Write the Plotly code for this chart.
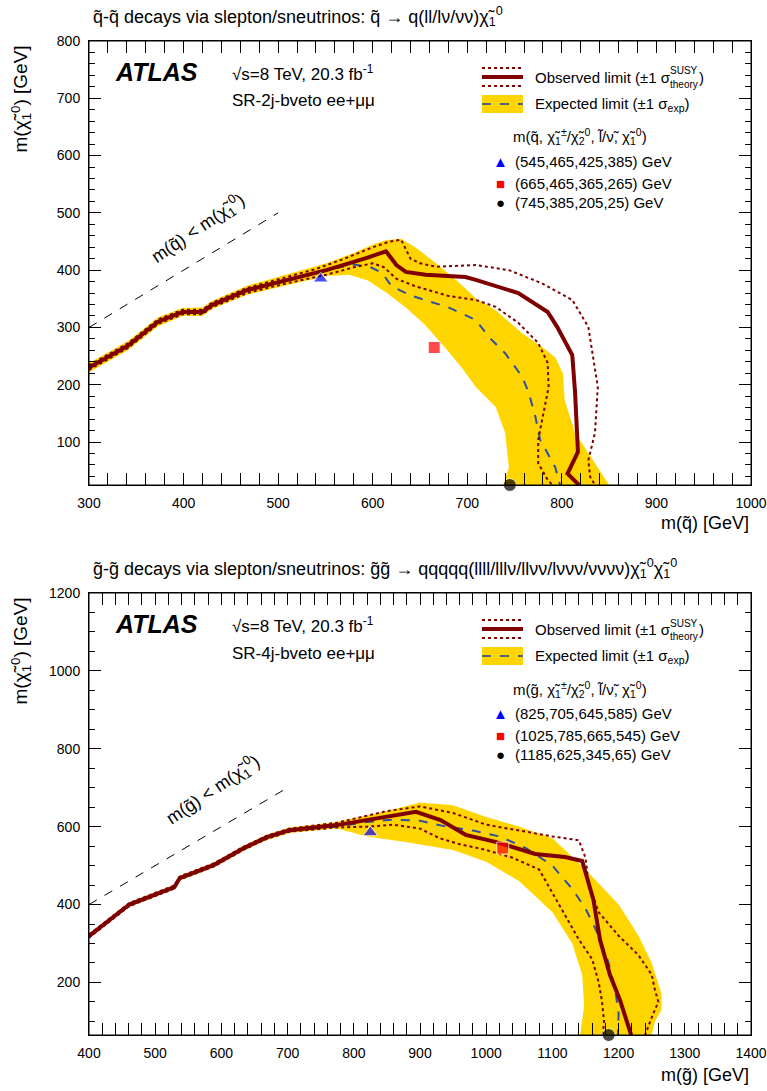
import plotly.graph_objects as go

# ---------------- data: squark plot (top) ----------------
sq_obs_x = [300, 341, 373, 399, 420, 430, 467, 509, 551, 593, 614, 625, 635, 656, 698, 709, 754, 785, 795, 811, 814, 817, 806, 818]
sq_obs_y = [230, 268, 310, 327, 327, 339, 365, 383, 400, 421, 433, 409, 397, 392, 388, 383, 360, 327, 301, 252, 186, 83, 45, 25]
sq_obs_up_x = [300, 341, 373, 399, 420, 430, 467, 509, 540, 570, 600, 618, 630, 640, 650, 667, 690, 709, 744, 779, 811, 828, 838, 835, 828, 830, 835]
sq_obs_up_y = [234, 272, 314, 331, 331, 343, 369, 388, 402, 420, 440, 450, 453, 420, 412, 406, 408, 409, 400, 377, 348, 301, 196, 116, 68, 39, 25]
sq_obs_dn_x = [300, 341, 373, 399, 420, 430, 467, 509, 551, 580, 600, 612, 625, 645, 680, 709, 730, 754, 775, 785, 786, 780, 775, 775, 785, 790]
sq_obs_dn_y = [226, 264, 306, 323, 323, 335, 360, 377, 392, 405, 412, 405, 385, 372, 355, 348, 336, 308, 273, 238, 196, 144, 104, 63, 34, 25]
sq_exp_x = [300, 341, 373, 399, 420, 430, 467, 509, 551, 580, 598, 610, 620, 640, 680, 709, 723, 740, 758, 765, 772, 777, 793, 798]
sq_exp_y = [230, 268, 310, 327, 327, 339, 365, 383, 400, 410, 405, 395, 372, 356, 335, 313, 283, 255, 214, 186, 144, 104, 56, 25]
sq_band_up_x = [300, 341, 373, 399, 420, 430, 467, 509, 551, 580, 600, 614, 630, 645, 667, 690, 709, 730, 758, 779, 793, 801, 803, 814, 828, 842, 850]
sq_band_up_y = [238, 276, 318, 334, 335, 346, 373, 392, 412, 430, 445, 452, 455, 440, 412, 380, 351, 330, 290, 266, 248, 220, 173, 116, 81, 46, 25]
sq_band_dn_x = [300, 341, 373, 399, 420, 430, 467, 509, 551, 575, 595, 615, 635, 655, 678, 694, 709, 730, 740, 744, 738]
sq_band_dn_y = [222, 260, 302, 320, 320, 332, 357, 374, 390, 392, 382, 360, 335, 305, 262, 230, 196, 161, 116, 56, 25]
sq_bench_x = [545, 665, 745]
sq_bench_y = [385, 265, 25]
sq_bench_labels = ["(545,465,425,385) GeV", "(665,465,365,265) GeV", "(745,385,205,25) GeV"]
sq_diag_x = [300, 500]
sq_diag_y = [300, 500]

# ---------------- data: gluino plot (bottom) ----------------
gl_obs_x = [400, 436, 454, 461, 529, 537, 589, 634, 669, 703, 774, 850, 894, 931, 969, 1014, 1074, 1119, 1145, 1162, 1172, 1187, 1202, 1219]
gl_obs_y = [319, 368, 391, 400, 445, 468, 502, 545, 573, 591, 604, 625, 638, 617, 579, 561, 530, 522, 512, 412, 309, 219, 155, 65]
gl_obs_up_x = [400, 436, 454, 461, 529, 537, 589, 634, 669, 703, 774, 850, 900, 950, 1000, 1050, 1100, 1140, 1150, 1155, 1170, 1200, 1230, 1250, 1255, 1260, 1250, 1240]
gl_obs_up_y = [323, 372, 395, 404, 449, 472, 506, 549, 577, 595, 610, 640, 652, 635, 605, 590, 575, 565, 520, 450, 380, 320, 270, 220, 180, 150, 110, 65]
gl_obs_dn_x = [400, 436, 454, 461, 529, 537, 589, 634, 669, 703, 774, 820, 860, 900, 930, 960, 1000, 1040, 1080, 1100, 1120, 1140, 1160, 1170, 1175, 1178, 1176]
gl_obs_dn_y = [315, 364, 387, 396, 441, 464, 498, 541, 569, 587, 598, 600, 605, 595, 570, 555, 540, 520, 490, 430, 370, 310, 260, 200, 150, 100, 65]
gl_exp_x = [400, 436, 454, 461, 529, 537, 589, 634, 669, 703, 774, 820, 860, 900, 940, 980, 1020, 1060, 1100, 1130, 1150, 1170, 1185, 1195, 1200, 1199]
gl_exp_y = [319, 368, 391, 400, 445, 468, 502, 545, 573, 591, 600, 612, 618, 615, 600, 590, 575, 545, 500, 440, 390, 320, 250, 180, 120, 65]
gl_band_up_x = [400, 436, 454, 461, 529, 537, 589, 634, 669, 703, 774, 850, 900, 950, 1000, 1050, 1100, 1150, 1200, 1230, 1250, 1265, 1265, 1255, 1250]
gl_band_up_y = [325, 374, 397, 406, 451, 474, 508, 551, 580, 598, 612, 640, 662, 655, 625, 600, 570, 490, 400, 320, 250, 170, 130, 100, 65]
gl_band_dn_x = [400, 436, 454, 461, 529, 537, 589, 634, 669, 703, 774, 820, 880, 950, 1000, 1050, 1100, 1130, 1145, 1148, 1142]
gl_band_dn_y = [313, 362, 385, 394, 439, 462, 496, 539, 566, 584, 596, 575, 560, 540, 510, 460, 380, 300, 220, 140, 65]
gl_bench_x = [825, 1025, 1185]
gl_bench_y = [585, 545, 65]
gl_bench_labels = ["(825,705,645,585) GeV", "(1025,785,665,545) GeV", "(1185,625,345,65) GeV"]
gl_diag_x = [400, 700]
gl_diag_y = [400, 700]

# ---------------- style ----------------
FONT = "Liberation Sans, Arial, Helvetica, sans-serif"
YEL = "#FFD500"
RED = "#7F0000"
BLUE = "#2F4FA0"
W, H = 767, 1091
L, R, T, B = 89, 16, 41, 56
PW = W - L - R
PH = H - T - B


def px(x):
    return (x - L) / PW


def py(y):
    return (H - B - y) / PH


fig = go.Figure()


def add_panel(xa, ya, band_up_x, band_up_y, band_dn_x, band_dn_y, exp_x, exp_y,
              obs_x, obs_y, up_x, up_y, dn_x, dn_y, bx, by, dx, dy):
    fig.add_trace(go.Scatter(x=band_up_x + band_dn_x[::-1], y=band_up_y + band_dn_y[::-1],
                             fill="toself", fillcolor=YEL, line=dict(width=0), mode="lines",
                             xaxis=xa, yaxis=ya, hoverinfo="skip", showlegend=False))
    fig.add_trace(go.Scatter(x=dx, y=dy, mode="lines", line=dict(color="black", width=1, dash="dash"),
                             xaxis=xa, yaxis=ya, showlegend=False))
    fig.add_trace(go.Scatter(x=exp_x, y=exp_y, mode="lines", line=dict(color=BLUE, width=2, dash="dash"),
                             xaxis=xa, yaxis=ya, showlegend=False))
    fig.add_trace(go.Scatter(x=up_x, y=up_y, mode="lines", line=dict(color=RED, width=2, dash="dot"),
                             xaxis=xa, yaxis=ya, showlegend=False))
    fig.add_trace(go.Scatter(x=dn_x, y=dn_y, mode="lines", line=dict(color=RED, width=2, dash="dot"),
                             xaxis=xa, yaxis=ya, showlegend=False))
    fig.add_trace(go.Scatter(x=obs_x, y=obs_y, mode="lines", line=dict(color=RED, width=4),
                             xaxis=xa, yaxis=ya, showlegend=False))
    fig.add_trace(go.Scatter(x=bx, y=by, mode="markers", cliponaxis=False,
                             marker=dict(symbol=["triangle-up", "square", "circle"],
                                         color=["#0000FF", "#FF0000", "black"], size=[13, 12, 13]),
                             xaxis=xa, yaxis=ya, showlegend=False))


add_panel("x", "y", sq_band_up_x, sq_band_up_y, sq_band_dn_x, sq_band_dn_y, sq_exp_x, sq_exp_y,
          sq_obs_x, sq_obs_y, sq_obs_up_x, sq_obs_up_y, sq_obs_dn_x, sq_obs_dn_y,
          sq_bench_x, sq_bench_y, sq_diag_x, sq_diag_y)
add_panel("x2", "y2", gl_band_up_x, gl_band_up_y, gl_band_dn_x, gl_band_dn_y, gl_exp_x, gl_exp_y,
          gl_obs_x, gl_obs_y, gl_obs_up_x, gl_obs_up_y, gl_obs_dn_x, gl_obs_dn_y,
          gl_bench_x, gl_bench_y, gl_diag_x, gl_diag_y)


def axis(rng, dom, dtick, minor, anchor, **kw):
    d = dict(range=rng, domain=dom, anchor=anchor, showline=True, linecolor="black", linewidth=1,
             mirror="allticks", ticks="inside", ticklen=12, tickwidth=1, tickcolor="black",
             tick0=0, dtick=dtick, showgrid=False, zeroline=False, automargin=False,
             ticklabeloverflow="allow",
             minor=dict(ticks="inside", ticklen=6, dtick=minor, tickcolor="black", showgrid=False),
             tickfont=dict(family=FONT, size=14, color="black"), ticklabelstandoff=5)
    d.update(kw)
    return d


top_dom = [py(485), 1.0]
bot_dom = [0.0, py(593)]
fig.update_layout(
    width=W, height=H, margin=dict(l=L, r=R, t=T, b=B, autoexpand=False),
    paper_bgcolor="white", plot_bgcolor="white", showlegend=False,
    xaxis=axis([300, 1000], [0, 1], 100, 20, "y"),
    yaxis=axis([25, 800], top_dom, 100, 20, "x"),
    xaxis2=axis([400, 1400], [0, 1], 100, 20, "y2"),
    yaxis2=axis([65, 1200], bot_dom, 200, 50, "x2"),
    # right-hand frame ticks
    yaxis3=axis([25, 800], top_dom, 100, 20, "x", overlaying="y", side="right", showticklabels=False,
                mirror=False),
    yaxis4=axis([65, 1200], bot_dom, 200, 50, "x2", overlaying="y2", side="right", showticklabels=False,
                mirror=False),
)
fig.add_trace(go.Scatter(x=[None], y=[None], xaxis="x", yaxis="y3", showlegend=False))
fig.add_trace(go.Scatter(x=[None], y=[None], xaxis="x2", yaxis="y4", showlegend=False))

ann = []
shapes = []
# panel frames
for xr, yr in [("x domain", "y domain"), ("x2 domain", "y2 domain")]:
    shapes.append(dict(type="rect", xref=xr, yref=yr, x0=0, x1=1, y0=0, y1=1,
                       line=dict(color="black", width=1), layer="above"))


def text(x, y, s, size=15, xanchor="left", yanchor="middle", **kw):
    ann.append(dict(x=px(x), y=py(y), xref="paper", yref="paper", text=s, showarrow=False,
                    xanchor=xanchor, yanchor=yanchor,
                    font=dict(family=kw.pop("family", FONT), size=size, color=kw.pop("color", "black")), **kw))


chi10 = "χ\u0303<sub>1</sub><sup>0</sup>"

for off, title, xlab, hdr, sr, bl in [
    (0, "q\u0303-q\u0303 decays via slepton/sneutrinos: q\u0303 → q(ll/lν/νν)" + chi10,
     "m(q\u0303) [GeV]",
     "m(q\u0303, χ\u0303<sub>1</sub><sup>±</sup>/χ\u0303<sub>2</sub><sup>0</sup>, l\u0303/ν\u0303, " + chi10 + ")",
     "SR-2j-bveto ee+μμ", sq_bench_labels),
    (552, "g\u0303-g\u0303 decays via slepton/sneutrinos: g\u0303g\u0303 → qqqqq(llll/lllν/llνν/lννν/νννν)"
     + "χ\u0303<sub>1</sub><sup>0</sup>χ\u0303<sub>1</sub><sup>0</sup>",
     "m(g\u0303) [GeV]",
     "m(g\u0303, χ\u0303<sub>1</sub><sup>±</sup>/χ\u0303<sub>2</sub><sup>0</sup>, l\u0303/ν\u0303, " + chi10 + ")",
     "SR-4j-bveto ee+μμ", gl_bench_labels),
]:
    text(91, 16 + off, title, size=18)
    text(751, 523 + off, xlab, size=18, xanchor="right")
    ann.append(dict(x=px(21), y=py(44 + off), xref="paper", yref="paper", text="m(" + chi10 + ") [GeV]",
                    textangle=-90, showarrow=False, xanchor="center", yanchor="top",
                    font=dict(family=FONT, size=19, color="black")))
    text(113, 72 + off, "<b><i>ATLAS</i></b>", size=25)
    text(230, 73 + off, "√s=8 TeV, 20.3 fb<sup>-1</sup>", size=17)
    text(230, 101 + off, sr, size=17)
    # legend
    for yy, dash, wdt in [(68, "dot", 2), (86, "dot", 2), (77, "solid", 4)]:
        shapes.append(dict(type="line", xref="paper", yref="paper", x0=px(482), x1=px(523),
                           y0=py(yy + off), y1=py(yy + off), line=dict(color=RED, width=wdt, dash=dash)))
    shapes.append(dict(type="rect", xref="paper", yref="paper", x0=px(482), x1=px(523),
                       y0=py(95 + off), y1=py(113 + off), fillcolor=YEL, line=dict(width=0)))
    shapes.append(dict(type="line", xref="paper", yref="paper", x0=px(482), x1=px(523),
                       y0=py(104 + off), y1=py(104 + off), line=dict(color="#55607A", width=2, dash="dash")))
    # observed entry with stacked super/subscript
    text(533, 77 + off, "Observed limit (±1 σ", size=15)
    text(668, 71 + off, "SUSY", size=10)
    text(668, 84 + off, "theory", size=10)
    text(697, 77 + off, ")", size=15)
    text(533, 104 + off, "Expected limit (±1 σ<sub>exp</sub>)", size=15)
    text(511, 137 + off, hdr, size=15)
    for yy, sym, col, lab in zip([161, 183, 203], ["▲", "■", "●"], ["#0000FF", "#FF0000", "black"], bl):
        text(500, yy + off, sym, size=15, xanchor="center", color=col)
        text(513, yy + off, lab, size=15)

# diagonal labels (data coordinates)
ann.append(dict(x=415, y=473, xref="x", yref="y", text="m(q\u0303) < m(" + chi10 + ")", showarrow=False,
                textangle=-34, font=dict(family=FONT, size=18, color="black")))
ann.append(dict(x=588, y=695, xref="x2", yref="y2", text="m(g\u0303) < m(" + chi10 + ")", showarrow=False,
                textangle=-34, font=dict(family=FONT, size=18, color="black")))

fig.update_layout(annotations=ann, shapes=shapes)
fig.write_html("out.html", config={"displayModeBar": False},
               post_script="document.body.style.margin='0';document.body.style.overflow='hidden';")
